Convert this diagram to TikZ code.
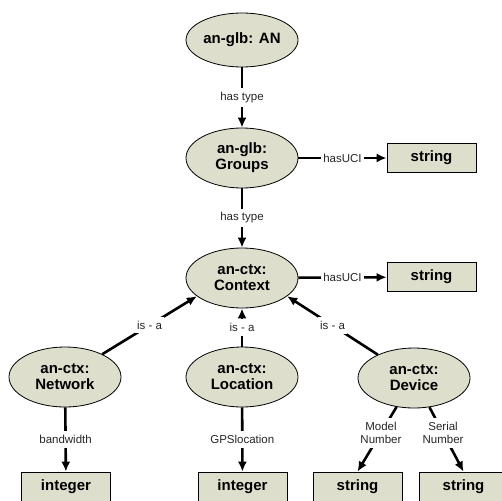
\documentclass[tikz,border=0pt]{standalone}
\usepackage{xcolor}
\usepackage{fontspec}
\setmainfont{Liberation Sans}
\usepackage{tikz}
\usetikzlibrary{shapes}
\usetikzlibrary{arrows.meta}

\definecolor{nodefill}{RGB}{221,222,204}

\begin{document}
\begin{tikzpicture}[x=1pt,y=1pt,>={Latex[length=10pt,width=9pt]},
		concept/.style={ellipse,draw=black,line width=0.8pt,fill=nodefill,minimum width=112pt,minimum height=60pt,inner sep=0pt,align=center,font=\fontsize{15}{16}\selectfont\bfseries},
		literal/.style={rectangle,draw=black,line width=0.8pt,fill=nodefill,minimum width=89pt,minimum height=29pt,inner sep=0pt,font=\fontsize{15}{16}\selectfont\bfseries},
		rel/.style={->,line width=2.6pt},
		lbl/.style={fill=white,inner xsep=2pt,inner ysep=4pt,align=center,text=black!85,font=\fontsize{11.5}{13}\selectfont}]
		\useasboundingbox (0,0) rectangle (502,-500);

		% top level
		\node at (242,-40) (an) [concept,minimum height=54pt] {an-glb: AN};

		% Groups
		\node at (242,-158) (groups) [concept] {an-glb:\\Groups};
		\node at (431.5,-158) (gstr) [literal] {string};

		% Context
		\node at (242,-278) (context) [concept] {an-ctx:\\Context};
		\node at (431.5,-277) (cstr) [literal] {string};

		% sub-contexts
		\node at (65,-377) (network) [concept] {an-ctx:\\Network};
		\node at (242,-377) (location) [concept] {an-ctx:\\Location};
		\node at (414,-378) (device) [concept] {an-ctx:\\Device};

		% value types
		\node at (66,-486.5) (nint) [literal] {integer};
		\node at (242.5,-486.5) (lint) [literal] {integer};
		\node at (357.5,-486.5) (model) [literal] {string};
		\node at (463.5,-486.5) (serial) [literal] {string};

		% relations
		\draw [rel] (an) -- node [lbl] {has type} (groups);
		\draw [rel] (groups) -- node [lbl] {has type} (context);
		\draw [rel] (groups) -- node [lbl] {hasUCI} (gstr);
		\draw [rel] (context) -- node [lbl] {hasUCI} (cstr);

		\draw [rel] (network) -- node [lbl] {is - a} (context.202);
		\draw [rel] (location) -- node [lbl] {is - a} (context);
		\draw [rel] (device) -- node [lbl] {is - a} (context.338);

		\draw [rel] (network) -- node [lbl] {bandwidth} (nint);
		\draw [rel] (location) -- node [lbl] {GPSlocation} (lint);
		\draw [rel] (device) -- node [lbl,pos=0.4] {Model\\Number} (model.north);
		\draw [rel] (device) -- node [lbl,pos=0.4] {Serial\\Number} (serial.north);

	\end{tikzpicture}
\end{document}
